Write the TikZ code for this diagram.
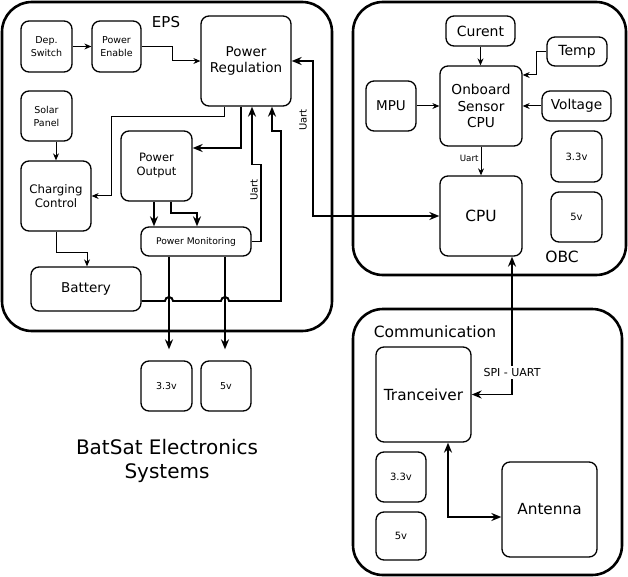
\documentclass[tikz,border=0pt]{standalone}
\usepackage{fontspec}
\setmainfont{DejaVu Sans}
\usetikzlibrary{arrows.meta}

\begin{document}
\begin{tikzpicture}[x=1pt, y=-1pt,
    group/.style={draw, line width=2.6pt, rounded corners=30pt},
    block/.style={draw, line width=1.3pt, rounded corners=8pt, align=center, inner sep=1pt},
    size/.style 2 args={minimum width=#1pt, minimum height=#2pt},
    lbl/.style={inner sep=2pt},
    thinarrow/.style={line width=1pt, -{Stealth[length=7pt, width=6pt]}},
    thickarrow/.style={line width=1.9pt, -{Stealth[length=10pt, width=8pt]}},
    twoway/.style={line width=1.9pt, {Stealth[length=10pt, width=8pt]}-{Stealth[length=10pt, width=8pt]}}
    ]
    \useasboundingbox (0,0) rectangle (628,577);
    \draw[group] (2,2) rectangle (332,331);
    \draw[group] (353,2) rectangle (626,275);
    \draw[group] (353,309) rectangle (622,575);
    \node[font=\fontsize{15}{18}\selectfont] (epslbl) at (166,22) {EPS};
    \node[font=\fontsize{15.5}{18}\selectfont] (obclbl) at (562,257) {OBC};
    \node[font=\fontsize{15.5}{18}\selectfont] (comlbl) at (435,332) {Communication};
    \node[font=\fontsize{20}{24}\selectfont, align=center] (title) at (167,461) {BatSat Electronics\\Systems};

    \node[block, size={51}{51}, font=\fontsize{9.5}{13}\selectfont] (depsw) at (46.5,46.5) {Dep.\\Switch};
    \node[block, size={49}{51}, font=\fontsize{9.5}{13}\selectfont] (pwren) at (116.5,46.5) {Power\\Enable};
    \node[block, size={90}{90}, font=\fontsize{13.5}{16}\selectfont] (pwrreg) at (246,61) {Power\\Regulation};
    \node[block, size={51}{50}, font=\fontsize{9.5}{13}\selectfont] (solar) at (46.5,116) {Solar\\Panel};
    \node[block, size={70}{70}, font=\fontsize{11.75}{13.5}\selectfont] (charge) at (56,196) {Charging\\Control};
    \node[block, size={71}{70}, font=\fontsize{11.5}{14}\selectfont] (pwrout) at (156.5,166) {Power\\Output};
    \node[block, size={110}{29}, font=\fontsize{9.2}{11}\selectfont] (pwrmon) at (196,241.5) {Power Monitoring};
    \node[block, size={110}{44}, font=\fontsize{13.5}{16}\selectfont] (battery) at (86,289) {Battery};
    \node[block, size={51}{50}, font=\fontsize{9.5}{11}\selectfont] (epsthree) at (166.5,386) {3.3v};
    \node[block, size={50}{50}, font=\fontsize{9.5}{11}\selectfont] (epsfive) at (226,386) {5v};

    \node[block, size={69}{30}, font=\fontsize{14}{16}\selectfont] (curent) at (480.5,31) {Curent};
    \node[block, size={60}{29}, font=\fontsize{14}{16}\selectfont] (temp) at (577,51.5) {Temp};
    \node[block, size={82}{80}, font=\fontsize{13.7}{16.5}\selectfont] (sensor) at (481,106) {Onboard\\Sensor\\CPU};
    \node[block, size={50}{50}, font=\fontsize{13.5}{16}\selectfont] (mpu) at (391,106) {MPU};
    \node[block, size={69}{30}, font=\fontsize{13.7}{16}\selectfont] (voltage) at (576.5,106) {Voltage};
    \node[block, size={51}{51}, font=\fontsize{10}{11}\selectfont] (obcthree) at (576.5,156.5) {3.3v};
    \node[block, size={51}{50}, font=\fontsize{10}{11}\selectfont] (obcfive) at (576.5,217) {5v};
    \node[block, size={82}{80}, font=\fontsize{15.4}{18}\selectfont] (cpu) at (481,216) {CPU};

    \node[block, size={95}{95}, font=\fontsize{15.3}{18}\selectfont] (trx) at (423.5,394.5) {Tranceiver};
    \node[block, size={50}{50}, font=\fontsize{10}{11}\selectfont] (comthree) at (401,477) {3.3v};
    \node[block, size={50}{48}, font=\fontsize{10}{11}\selectfont] (comfive) at (401,536) {5v};
    \node[block, size={95}{95}, font=\fontsize{15.3}{18}\selectfont] (antenna) at (549.5,509.5) {Antenna};

    \draw[thinarrow] (depsw.east) -- (pwren.west);
    \draw[thinarrow] (pwren.east) -- ++(31,0) |- (pwrreg.west);
    \draw[thinarrow] (solar.south -| charge.north) -- (charge.north);
    \draw[thinarrow] (charge.south) -- ++(0,21) -| ([xshift=1pt]battery.north);
    \draw[thinarrow] ([xshift=-22pt]pwrreg.south) -- ++(0,10) -| ([xshift=20pt]charge.east) -- (charge.east);
    \draw[thickarrow] ([xshift=-5pt]pwrreg.south) |- ([yshift=18pt]pwrout.east);
    \draw[thickarrow] ([xshift=-2.5pt]pwrout.south) -- ([xshift=-42pt]pwrmon.north);
    \draw[thickarrow] ([xshift=14.5pt]pwrout.south) -- ++(0,11) -| ([xshift=1pt]pwrmon.north);
    \draw[thickarrow] (pwrmon.east) -- ++(9,0) -- node[pos=0.67, anchor=south, rotate=90, lbl, font=\fontsize{10}{12}\selectfont] {Uart} ++(0,-77) -| ([xshift=6pt]pwrreg.south);
    \draw[thickarrow] ([yshift=-12pt]battery.east) -- (165,301) arc[start angle=180, end angle=0, radius=4pt]
      -- (221,301) arc[start angle=180, end angle=0, radius=4pt] -- (281,301) -- (281,131) -| ([xshift=26pt]pwrreg.south);
    \draw[thickarrow] ([xshift=-27pt]pwrmon.south) -- ([xshift=2.5pt, yshift=11pt]epsthree.north);
    \draw[thickarrow] ([xshift=29pt]pwrmon.south) -- ([xshift=-1pt, yshift=11pt]epsfive.north);
    \draw[twoway] (pwrreg.east) -- ++(21,0) |- (cpu.west);
    \node[lbl, rotate=90, font=\fontsize{10}{12}\selectfont] (uartobc) at (303,120) {Uart};

    \draw[thinarrow] (curent.south) -- (curent.south |- sensor.north);
    \draw[thinarrow] (temp.west) -- ++(-10,0) |- ([yshift=31pt]sensor.east);
    \draw[thinarrow] (mpu.east) -- (sensor.west);
    \draw[thinarrow] (voltage.west) -- (sensor.east);
    \draw[thinarrow] (sensor.south) -- node[pos=0.4, left, lbl, font=\fontsize{8.7}{10}\selectfont] {Uart} (cpu.north);
    \draw[twoway] ([xshift=31pt]cpu.south) |- node[pos=0.42, fill=white, lbl, font=\fontsize{11}{13}\selectfont] {SPI - UART} (trx.east);
    \draw[twoway] ([xshift=24.5pt]trx.south) |- ([yshift=-7.5pt]antenna.west);
\end{tikzpicture}
\end{document}
